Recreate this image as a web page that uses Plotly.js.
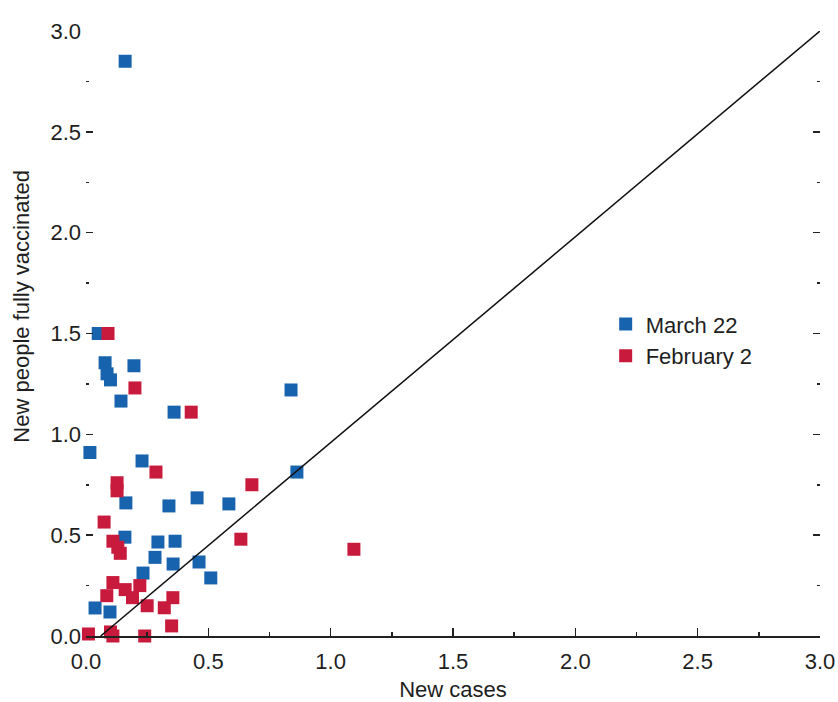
<!DOCTYPE html>
<html>
<head>
<meta charset="utf-8">
<script src="https://cdn.plot.ly/plotly-3.0.1.min.js"></script>
<style>html,body{margin:0;padding:0;background:#fff;}#chart{width:838px;height:702px;}</style>
</head>
<body>
<div id="chart"></div>
<script>
// March 22 (blue)
const marchX = [0.16, 0.05, 0.078, 0.086, 0.10, 0.196, 0.143, 0.36, 0.838, 0.016, 0.229, 0.862, 0.163, 0.339, 0.454, 0.584, 0.159, 0.294, 0.364, 0.282, 0.356, 0.462, 0.51, 0.233, 0.037, 0.098];
const marchY = [2.85, 1.50, 1.355, 1.30, 1.27, 1.34, 1.165, 1.11, 1.22, 0.91, 0.868, 0.813, 0.66, 0.645, 0.685, 0.655, 0.49, 0.466, 0.47, 0.39, 0.357, 0.367, 0.288, 0.312, 0.139, 0.119];
// February 2 (red)
const febX = [0.09, 0.20, 0.43, 0.286, 0.127, 0.127, 0.678, 0.074, 0.633, 1.095, 0.11, 0.13, 0.14, 0.11, 0.085, 0.16, 0.19, 0.22, 0.25, 0.32, 0.355, 0.35, 0.01, 0.10, 0.11, 0.24];
const febY = [1.50, 1.23, 1.11, 0.813, 0.76, 0.72, 0.75, 0.565, 0.48, 0.43, 0.47, 0.44, 0.41, 0.265, 0.20, 0.23, 0.19, 0.25, 0.15, 0.14, 0.19, 0.05, 0.01, 0.02, 0.0, 0.0];
// reference line
const lineX = [0.06, 3.0];
const lineY = [0.0, 3.0];
const seriesNames = ["March 22", "February 2"];
const tickVals = [0, 0.5, 1.0, 1.5, 2.0, 2.5, 3.0];
const tickText = ["0.0", "0.5", "1.0", "1.5", "2.0", "2.5", "3.0"];

const FONT = "Liberation Sans, Arial, sans-serif";
const traces = [
  {x: marchX, y: marchY, name: seriesNames[0], type: "scatter", mode: "markers", cliponaxis: false,
   marker: {symbol: "square", size: 13, color: "#1863ae"}},
  {x: febX, y: febY, name: seriesNames[1], type: "scatter", mode: "markers", cliponaxis: false,
   marker: {symbol: "square", size: 13, color: "#c81a3c"}},
  {x: lineX, y: lineY, type: "scatter", mode: "lines", showlegend: false, hoverinfo: "skip",
   line: {color: "#111", width: 1.5}}
];
const layout = {
  width: 838, height: 702,
  margin: {l: 86, r: 18, t: 31, b: 66},
  paper_bgcolor: "#fff", plot_bgcolor: "#fff",
  font: {family: FONT, size: 22, color: "#1e1e1e"},
  showlegend: true,
  legend: {x: 0.708, xanchor: "left", y: 0.55, yanchor: "top", bgcolor: "rgba(0,0,0,0)",
           font: {family: FONT, size: 22, color: "#1e1e1e"}, itemwidth: 30, tracegroupgap: 0},
  xaxis: {range: [0, 3], tickvals: tickVals, ticktext: tickText, showgrid: false, zeroline: false,
          showline: true, linecolor: "#222", linewidth: 1.5, ticks: "inside", ticklen: 8, tickwidth: 1.5, tickcolor: "#222",
          minor: {dtick: 0.25, ticks: "inside", ticklen: 4, tickwidth: 1.5, tickcolor: "#222"},
          ticklabelstandoff: 5,
          title: {text: "New cases", font: {family: FONT, size: 22, color: "#1e1e1e"}, standoff: 8}},
  yaxis: {range: [0, 3], tickvals: tickVals, ticktext: tickText, showgrid: false, zeroline: false,
          showline: false, ticks: "inside", ticklen: 7, tickwidth: 1.5, tickcolor: "#222", mirror: "ticks",
          minor: {dtick: 0.25, ticks: "inside", ticklen: 3, tickwidth: 1.5, tickcolor: "#222"},
          ticklabelstandoff: 4},
  annotations: [{text: "New people fully vaccinated", textangle: -90, xref: "paper", yref: "paper",
                 x: -0.088, y: 0.545, xanchor: "center", yanchor: "middle", showarrow: false,
                 font: {family: FONT, size: 22, color: "#1e1e1e"}}]
};
Plotly.newPlot("chart", traces, layout, {displayModeBar: false, staticPlot: true});
</script>
</body>
</html>
